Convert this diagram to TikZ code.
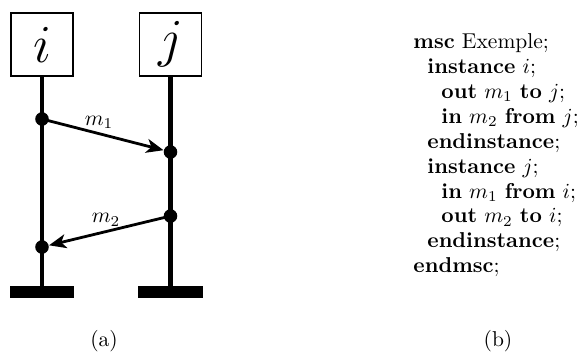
\documentclass[tikz,border=0pt]{standalone}
\usetikzlibrary{arrows.meta}
\begin{document}
\begin{tikzpicture}[x=0.465pt, y=-0.465pt,
  inst/.style={draw, line width=0.65pt, minimum width=28.8pt, minimum height=29.3pt,
               inner sep=0pt, font=\fontsize{27}{30}\selectfont},
  stopbar/.style={fill=black, draw=none, minimum width=29.8pt, minimum height=5.6pt, inner sep=0pt},
  life/.style={line width=2.2pt},
  evt/.style={circle, fill=black, minimum size=6.3pt, inner sep=0pt},
  msg/.style={line width=1.3pt, -{Stealth[length=8pt, width=6.5pt, inset=2.2pt]}},
  code/.style={align=left, anchor=north west, inner sep=0pt,
               font=\fontsize{10}{11.6}\selectfont}]
\useasboundingbox (0,0) rectangle (587,352);

% instance heads
\node[inst] (I) at (42,44.5) {$i$};
\node[inst] (J) at (170.5,44.5) {$j$};

% instance ends
\node[stopbar] (Ie) at (42,292) {};
\node[stopbar] (Je) at (170.5,292) {};

% lifelines
\draw[life] (I.south) -- (Ie.north);
\draw[life] (J.south) -- (Je.north);

% events
\node[evt] (i1) at (42,119) {};
\node[evt] (j1) at (170.5,152) {};
\node[evt] (j2) at (170.5,216) {};
\node[evt] (i2) at (42,247) {};

% messages
\draw[msg] (i1.center) -- (j1) node[pos=0.47, above=-1.5pt] (m1) {$m_1$};
\draw[msg] (j2.center) -- (i2) node[pos=0.53, above=-1.5pt] (m2) {$m_2$};

% textual description
\node[code] (txt) at (413,33) {%
\textbf{msc} Exemple;\\
\hspace*{6.5pt}\textbf{instance} $i$;\\
\hspace*{13pt}\textbf{out} $m_1$ \textbf{to} $j$;\\
\hspace*{13pt}\textbf{in} $m_2$ \textbf{from} $j$;\\
\hspace*{6.5pt}\textbf{endinstance};\\
\hspace*{6.5pt}\textbf{instance} $j$;\\
\hspace*{13pt}\textbf{in} $m_1$ \textbf{from} $i$;\\
\hspace*{13pt}\textbf{out} $m_2$ \textbf{to} $i$;\\
\hspace*{6.5pt}\textbf{endinstance};\\
\textbf{endmsc};};

% captions
\node (capa) at (104,341) {(a)};
\node (capb) at (498,341) {(b)};
\end{tikzpicture}
\end{document}
